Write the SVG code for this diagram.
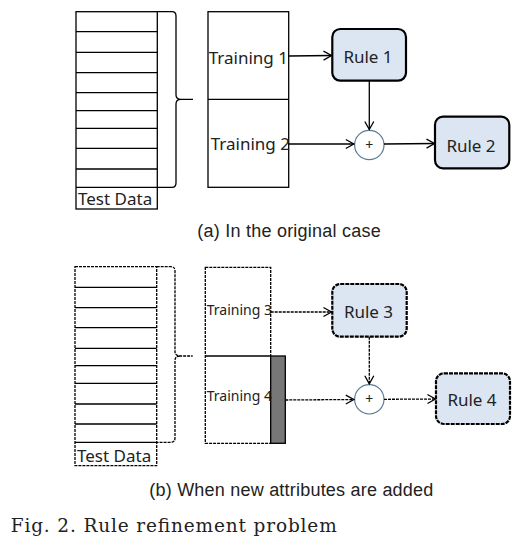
<svg xmlns="http://www.w3.org/2000/svg" width="531" height="551" viewBox="0 0 531 551">
<style>
.ln{stroke:#000;stroke-width:1.3;fill:none}
.box{stroke:#000;stroke-width:1.3;fill:#fff}
.dot{stroke-dasharray:3 1}
.rdot{stroke-dasharray:4 1}
.rule{fill:#dce6f2;stroke:#000;stroke-width:2.2}
.sum{fill:#fff;stroke:#5b7c99;stroke-width:1.2}
.t{font-family:"Noto Sans","Open Sans",sans-serif;fill:#222}
.cap{font-family:"Liberation Sans",Arial,sans-serif;font-size:18px;fill:#222}
.fig{font-family:"DejaVu Serif","Liberation Serif",serif;font-size:18.5px;fill:#222}
</style>
<defs>
<marker id="ah" markerWidth="12" markerHeight="12" refX="10" refY="6" orient="auto" markerUnits="userSpaceOnUse">
<polyline points="2,1.5 10,6 2,10.5" fill="none" stroke="#000" stroke-width="1.3"/>
</marker>
</defs>

<!-- (a) -->
<g id="testdata-a">
<rect class="box" x="76" y="11.7" width="81.3" height="197.3"/>
<path class="ln" d="M76 31.7H157.3M76 52.3H157.3M76 72.7H157.3M76 92.7H157.3M76 110.7H157.3M76 128.3H157.3M76 148.3H157.3M76 169H157.3M76 187.3H157.3"/>
<text class="t" x="78" y="205" font-size="17">Test Data</text>
</g>
<g id="brace-a">
<path class="ln" d="M157.3 11.7H172Q176 11.7 176 16V95Q176 99.3 181 99.3H193M181 99.3Q176 99.3 176 104V183Q176 187.3 172 187.3H157.3"/>
</g>
<g id="training-a">
<rect class="box" x="208" y="11.7" width="80.7" height="175.6"/>
<line class="ln" x1="208" y1="99.3" x2="288.7" y2="99.3"/>
<text class="t" x="208.7" y="64" font-size="17">Training 1</text>
<text class="t" x="210.7" y="150" font-size="17">Training 2</text>
</g>
<g id="rule1">
<rect class="rule" x="332.3" y="29" width="73.7" height="51.7" rx="8"/>
<text class="t" x="368" y="63.3" font-size="17" text-anchor="middle">Rule 1</text>
</g>
<g id="sum-a">
<circle class="sum" cx="369.3" cy="145" r="14.7"/>
<text class="t" x="369.3" y="150" font-size="14" text-anchor="middle">+</text>
</g>
<g id="rule2">
<rect class="rule" x="435" y="116.7" width="74.3" height="51.6" rx="8"/>
<text class="t" x="471" y="151.7" font-size="17" text-anchor="middle">Rule 2</text>
</g>
<g id="connectors-a">
<line class="ln" x1="288.7" y1="56" x2="331.5" y2="55.5" marker-end="url(#ah)"/>
<line class="ln" x1="369.3" y1="80.7" x2="369.3" y2="129.5" marker-end="url(#ah)"/>
<line class="ln" x1="288.7" y1="144" x2="353.8" y2="144" marker-end="url(#ah)"/>
<line class="ln" x1="384" y1="144" x2="434.5" y2="143.5" marker-end="url(#ah)"/>
</g>
<text class="cap" x="197.3" y="236.5" textLength="183.4" lengthAdjust="spacing">(a) In the original case</text>

<!-- (b) -->
<g id="testdata-b">
<rect class="box dot" x="75" y="266.7" width="81.7" height="199"/>
<path class="ln" d="M75 287.3H156.7M75 307.7H156.7M75 327.7H156.7M75 348.3H156.7M75 365.7H156.7M75 383.3H156.7M75 404H156.7M75 424H156.7M75 442.3H156.7"/>
<text class="t" x="77" y="461.5" font-size="17">Test Data</text>
</g>
<g id="brace-b">
<path class="ln dot" d="M156.7 266.7H171Q175 266.7 175 271V351.5Q175 356 180 356H192.7M180 356Q175 356 175 360.5V438Q175 442.3 171 442.3H156.7"/>
</g>
<g id="training-b">
<rect class="box dot" x="205.3" y="267.3" width="65.4" height="176"/>
<line class="ln" x1="205.3" y1="356" x2="270.7" y2="356"/>
<rect x="270.7" y="356" width="14.6" height="87.3" fill="#777" stroke="#000" stroke-width="1.3"/>
<text class="t" x="206.7" y="315" font-size="14">Training 3</text>
<text class="t" x="206.7" y="400.7" font-size="14">Training 4</text>
</g>
<g id="rule3">
<rect class="rule rdot" x="332.3" y="284" width="74.4" height="52.7" rx="8"/>
<text class="t" x="368.5" y="318.3" font-size="17" text-anchor="middle">Rule 3</text>
</g>
<g id="sum-b">
<circle class="sum" cx="369.3" cy="399.3" r="14.7"/>
<text class="t" x="369.3" y="404.3" font-size="14" text-anchor="middle">+</text>
</g>
<g id="rule4">
<rect class="rule rdot" x="436" y="373.3" width="74" height="50.7" rx="8"/>
<text class="t" x="472" y="406" font-size="17" text-anchor="middle">Rule 4</text>
</g>
<g id="connectors-b">
<line class="ln dot" x1="270.7" y1="312" x2="331.5" y2="312" marker-end="url(#ah)"/>
<line class="ln dot" x1="369.3" y1="336.7" x2="369.3" y2="383.8" marker-end="url(#ah)"/>
<line class="ln dot" x1="285.3" y1="400" x2="353.8" y2="399.5" marker-end="url(#ah)"/>
<line class="ln dot" x1="384" y1="399.3" x2="435.5" y2="399" marker-end="url(#ah)"/>
</g>
<text class="cap" x="149.3" y="496" textLength="284" lengthAdjust="spacing">(b) When new attributes are added</text>

<text class="fig" x="10.7" y="531.5" textLength="326" lengthAdjust="spacing">Fig. 2. Rule refinement problem</text>
</svg>
